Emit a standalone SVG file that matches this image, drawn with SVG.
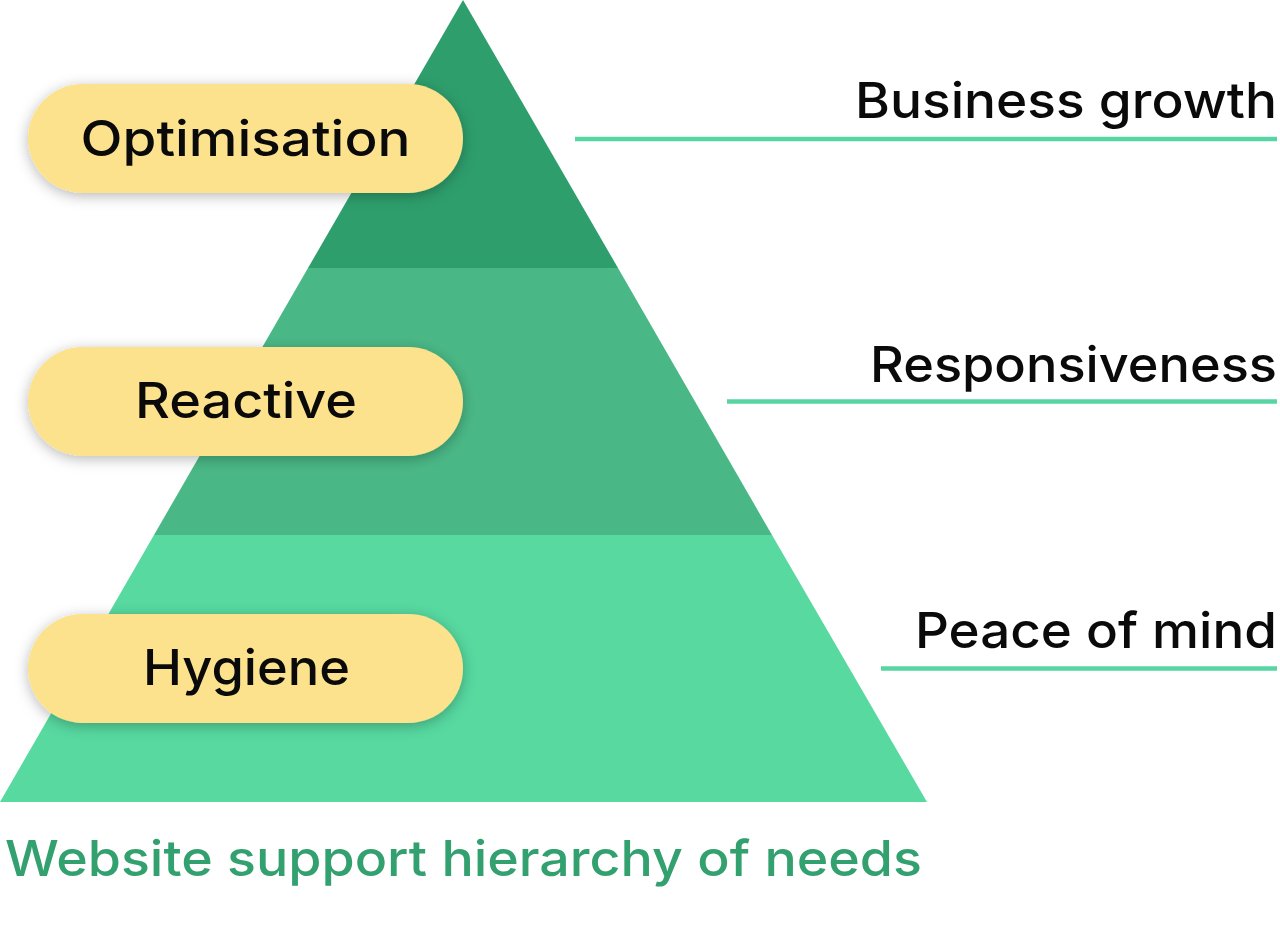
<svg xmlns="http://www.w3.org/2000/svg" width="1280" height="925" viewBox="0 0 1280 925">
<defs>
<filter id="sh" x="-20%" y="-40%" width="140%" height="180%">
<feDropShadow dx="0" dy="3" stdDeviation="7" flood-color="#000" flood-opacity="0.28"/>
</filter>
<style>
.pill{fill:#fde28e;filter:url(#sh)}
.pt{font-family:Inter,"Liberation Sans",sans-serif;font-weight:500;font-size:50px;fill:#0a0a0a;text-anchor:middle}
.rt{font-family:Inter,"Liberation Sans",sans-serif;font-weight:500;font-size:50px;fill:#0a0a0a;text-anchor:end}
.ln{stroke:#57d6a3;stroke-width:4.5}
.cap{font-family:Inter,"Liberation Sans",sans-serif;font-weight:500;font-size:50px;fill:#33a06f}
</style>
</defs>
<rect width="1280" height="925" fill="#ffffff"/>
<g id="pyramid">
<polygon points="463,0 618,268 308,268" fill="#2e9e6c"/>
<polygon points="308,268 618,268 772,535 154,535" fill="#4ab886"/>
<polygon points="154,535 772,535 927,802 0,802" fill="#57d9a0"/>
</g>
<g id="connectors">
<line class="ln" x1="575" y1="139" x2="1277" y2="139"/>
<line class="ln" x1="727" y1="401.5" x2="1277" y2="401.5"/>
<line class="ln" x1="881" y1="668.5" x2="1277" y2="668.5"/>
</g>
<g id="optimisation">
<rect class="pill" x="28" y="84" width="435" height="109" rx="54.5"/>
<text class="pt" x="245.5" y="156" textLength="330" lengthAdjust="spacingAndGlyphs">Optimisation</text>
</g>
<g id="reactive">
<rect class="pill" x="28" y="347" width="435" height="109" rx="54.5"/>
<text class="pt" x="246" y="418" textLength="222" lengthAdjust="spacingAndGlyphs">Reactive</text>
</g>
<g id="hygiene">
<rect class="pill" x="28" y="614" width="435" height="109" rx="54.5"/>
<text class="pt" x="246.5" y="685" textLength="207" lengthAdjust="spacingAndGlyphs">Hygiene</text>
</g>
<g id="business-growth">
<text class="rt" x="1277" y="118" textLength="422" lengthAdjust="spacingAndGlyphs">Business growth</text>
</g>
<g id="responsiveness">
<text class="rt" x="1277" y="382" textLength="407" lengthAdjust="spacingAndGlyphs">Responsiveness</text>
</g>
<g id="peace-of-mind">
<text class="rt" x="1277" y="648" textLength="362" lengthAdjust="spacingAndGlyphs">Peace of mind</text>
</g>
<g id="caption">
<text class="cap" x="5" y="876" textLength="917" lengthAdjust="spacingAndGlyphs">Website support hierarchy of needs</text>
</g>
</svg>
